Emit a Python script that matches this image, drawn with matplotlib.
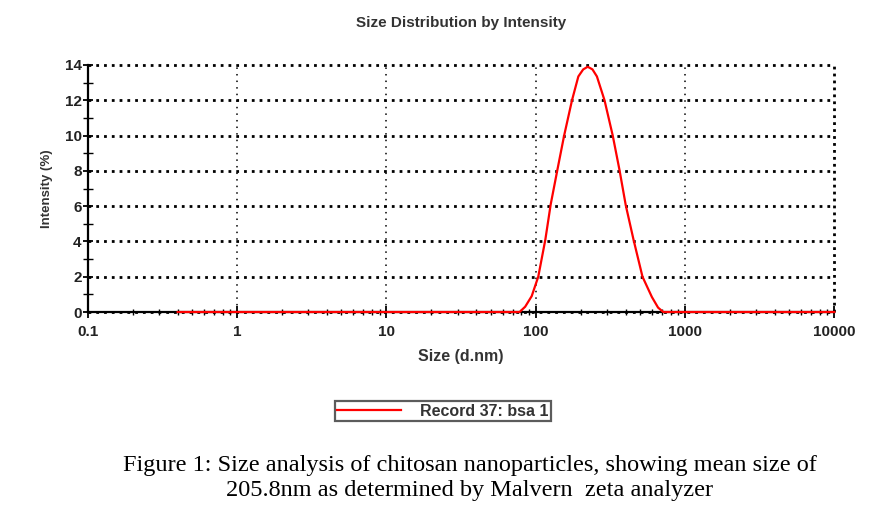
import matplotlib.pyplot as plt
from matplotlib.ticker import FixedLocator, FixedFormatter, MultipleLocator, LogLocator, NullFormatter

# size distribution
size_nm = [0.4, 78, 85, 94, 104, 116, 126, 140, 155, 175, 193, 208, 223,
           240, 257, 289, 328, 364, 401, 452, 519, 600, 660, 715, 10000]
intensity = [0, 0, 0.3, 0.9, 2.0, 4.1, 6.1, 8.1, 10.0, 12.0, 13.35, 13.75, 13.9,
             13.75, 13.35, 12.0, 10.0, 8.05, 6.05, 4.1, 2.0, 0.85, 0.25, 0, 0]

x_ticks = [0.1, 1, 10, 100, 1000, 10000]
x_labels = ["0.1", "1", "10", "100", "1000", "10000"]
y_ticks = [0, 2, 4, 6, 8, 10, 12, 14]

series_name = "Record 37: bsa 1"
caption = ("Figure 1: Size analysis of chitosan nanoparticles, showing mean size of\n"
           "205.8nm as determined by Malvern  zeta analyzer")

plt.rcParams["font.family"] = ["Liberation Sans", "DejaVu Sans"]

fig = plt.figure(figsize=(8.87, 5.25), dpi=100)
ax = fig.add_axes([0.099, 0.4057, 0.8416, 0.4705])

ax.plot(size_nm, intensity, color="red", lw=1.6, label=series_name,
        zorder=5, clip_on=False)

ax.set_xscale("log")
ax.set_xlim(0.1, 10000)
ax.set_ylim(0, 14)

ax.xaxis.set_major_locator(FixedLocator(x_ticks))
ax.xaxis.set_major_formatter(FixedFormatter(x_labels))
ax.xaxis.set_minor_locator(LogLocator(base=10, subs=range(2, 10)))
ax.xaxis.set_minor_formatter(NullFormatter())
ax.yaxis.set_major_locator(FixedLocator(y_ticks))
ax.yaxis.set_minor_locator(MultipleLocator(1))

for lab in ax.get_xticklabels() + ax.get_yticklabels():
    lab.set_fontweight("bold")
    lab.set_fontsize(11)
    lab.set_color("#222222")

ax.tick_params(axis="x", which="major", direction="inout", length=9, width=1.3, pad=5)
ax.tick_params(axis="x", which="minor", direction="inout", length=5, width=1.0)
ax.tick_params(axis="y", which="major", direction="inout", length=7, width=1.3, pad=1)
ax.tick_params(axis="y", which="minor", direction="inout", length=7, width=1.0)

ax.grid(True, axis="y", which="major", color="black", lw=2.0, linestyle=(0, (1, 1.8)))
ax.grid(True, axis="x", which="major", color="black", lw=1.1, linestyle=(0, (1, 3.3)))
for gl in ax.get_xgridlines() + ax.get_ygridlines():
    gl.set_clip_on(False)
ax.get_xgridlines()[-1].set_linewidth(2.0)
ax.get_xgridlines()[-1].set_linestyle((0, (1, 1.5)))

for side in ["top", "right"]:
    ax.spines[side].set_visible(False)
for side in ["left", "bottom"]:
    ax.spines[side].set_linewidth(1.6)
    ax.spines[side].set_color("black")
    ax.spines[side].set_zorder(4)

ax.set_xlabel("Size (d.nm)", fontsize=11.5, fontweight="bold", color="#333333", labelpad=7)
ax.set_ylabel("Intensity (%)", fontsize=9.5, fontweight="bold", color="#333333", labelpad=8)
ax.set_title("Size Distribution by Intensity", fontsize=11, fontweight="bold",
             color="#333333", pad=27)

leg = fig.legend(loc="center", bbox_to_anchor=(443 / 887, 1 - 411 / 525),
                 fontsize=11.5, frameon=True, fancybox=False, handlelength=4.0,
                 handletextpad=1.2, borderpad=0.15, borderaxespad=0)
leg.get_frame().set_edgecolor("#333333")
leg.get_frame().set_linewidth(1.6)
for t in leg.get_texts():
    t.set_fontweight("bold")
    t.set_color("#333333")

fig.text(470 / 887, 1 - 478 / 525, caption, ha="center", va="center",
         fontsize=17.5, family=["Liberation Serif", "DejaVu Serif"],
         linespacing=1.3)

fig.savefig("out.png", dpi=100)
